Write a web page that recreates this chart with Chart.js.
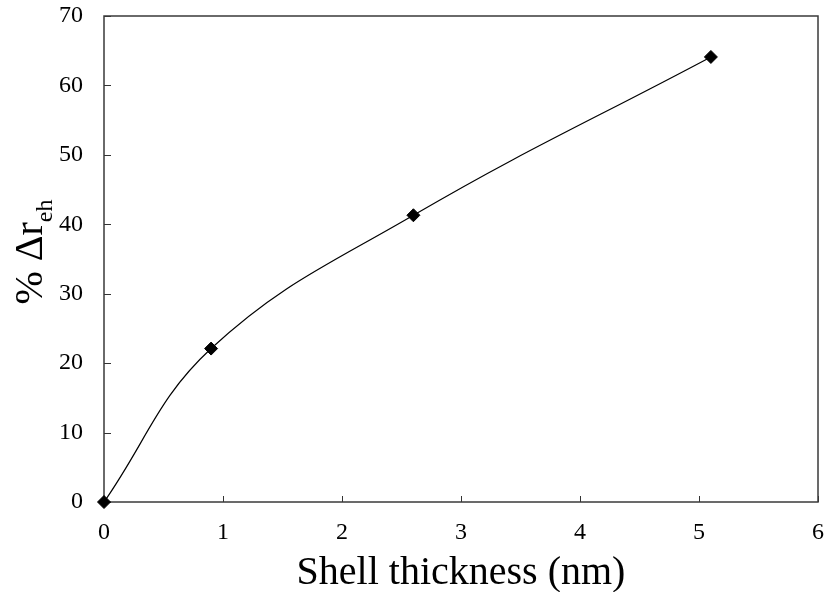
<!DOCTYPE html>
<html>
<head>
<meta charset="utf-8">
<script src="https://cdn.jsdelivr.net/npm/chart.js@4"></script>
<style>
  html, body { margin: 0; padding: 0; background: #fff; }
  #wrap { width: 826px; height: 592px; }
</style>
</head>
<body>
<div id="wrap"><canvas id="chart" width="826" height="592"></canvas></div>
<script>
// valeurs
const shellThickness = [0, 0.9, 2.6, 5.1];
const deltaReh = [0, 22.1, 41.3, 64.1];
const xRange = [0, 6];
const yRange = [0, 70];
const xTitle = 'Shell thickness (nm)';
const yTitleMain = '% \u0394r';
const yTitleSub = 'eh';

const serif = '"Liberation Serif", "Times New Roman", serif';

const points = shellThickness.map(function (x, i) { return {x: x, y: deltaReh[i]}; });

// cadre + petits traits vers l'interieur
const frame = {
    id: 'frame',
    beforeDatasetsDraw(chart) {
        const ctx = chart.ctx;
        const a = chart.chartArea;
        ctx.save();
        ctx.strokeStyle = '#333';
        ctx.lineWidth = 1;
        chart.scales.x.ticks.forEach(function (t) {
            const px = Math.round(chart.scales.x.getPixelForValue(t.value)) + 0.5;
            ctx.beginPath();
            ctx.moveTo(px, a.bottom);
            ctx.lineTo(px, a.bottom - 6);
            ctx.stroke();
        });
        chart.scales.y.ticks.forEach(function (t) {
            const py = Math.round(chart.scales.y.getPixelForValue(t.value)) + 0.5;
            ctx.beginPath();
            ctx.moveTo(a.left, py);
            ctx.lineTo(a.left + 7, py);
            ctx.stroke();
        });
        ctx.lineWidth = 1.5;
        ctx.strokeStyle = '#3a3a3a';
        ctx.strokeRect(a.left, a.top, a.right - a.left, a.bottom - a.top);
        ctx.restore();
    },
    afterDraw(chart) {
        // titre Y avec indice
        const ctx = chart.ctx;
        const a = chart.chartArea;
        ctx.save();
        ctx.fillStyle = '#000';
        ctx.textBaseline = 'alphabetic';
        ctx.textAlign = 'left';
        ctx.font = '40px ' + serif;
        const w1 = ctx.measureText(yTitleMain).width;
        ctx.font = '24px ' + serif;
        const w2 = ctx.measureText(yTitleSub).width;
        const cy = (a.top + a.bottom) / 2 - 7;
        ctx.translate(42, cy + (w1 + w2) / 2);
        ctx.rotate(-Math.PI / 2);
        ctx.font = '40px ' + serif;
        ctx.fillText(yTitleMain, 0, 0);
        ctx.font = '24px ' + serif;
        ctx.fillText(yTitleSub, w1, 10);
        ctx.restore();
    }
};

new Chart(document.getElementById('chart'), {
    type: 'scatter',
    data: {
        datasets: [{
            label: '% \u0394reh',
            data: points,
            showLine: true,
            tension: 0.4,
            borderColor: '#000',
            borderWidth: 1.2,
            pointStyle: 'rectRot',
            pointRadius: 6.5,
            pointBackgroundColor: '#000',
            pointBorderColor: '#000',
            pointBorderWidth: 1,
            clip: false
        }]
    },
    options: {
        responsive: false,
        animation: false,
        layout: { padding: { top: 16, right: 8, left: 0, bottom: 0 } },
        plugins: {
            legend: { display: false },
            tooltip: { enabled: false }
        },
        scales: {
            x: {
                type: 'linear',
                min: xRange[0],
                max: xRange[1],
                grid: { display: false, drawTicks: false },
                border: { display: false },
                ticks: { stepSize: 1, color: '#000', padding: 16, font: { family: serif, size: 24 } },
                title: { display: true, text: xTitle, color: '#000', padding: { top: 0, bottom: -5 }, font: { family: serif, size: 40 } },
                afterFit: function (s) { s.height = 90; s.paddingLeft = 0; s.paddingRight = 0; }
            },
            y: {
                min: yRange[0],
                max: yRange[1],
                grid: { display: false, drawTicks: false },
                border: { display: false },
                ticks: { stepSize: 10, color: '#000', padding: 21, font: { family: serif, size: 24 } },
                afterFit: function (s) { s.width = 104; s.paddingTop = 0; s.paddingBottom = 0; }
            }
        }
    },
    plugins: [frame]
});
</script>
</body>
</html>
